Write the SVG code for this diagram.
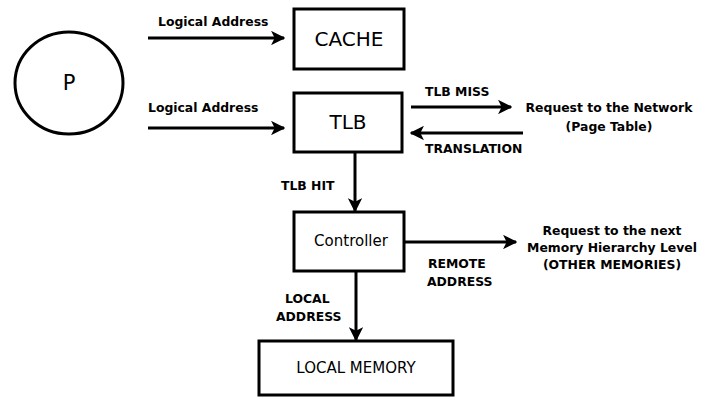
<svg xmlns="http://www.w3.org/2000/svg" width="713" height="401" viewBox="0 0 713 401">
<style>
.box{fill:#fff;stroke:#000;stroke-width:3}
.big{font-family:"DejaVu Sans",sans-serif;font-size:20px;text-anchor:middle;fill:#000}
.mid{font-family:"DejaVu Sans",sans-serif;font-size:15px;text-anchor:middle;fill:#000}
.lbl{font-family:"DejaVu Sans",sans-serif;font-size:12.4px;font-weight:bold;fill:#000}
.c{text-anchor:middle}
.con{stroke:#000;stroke-width:3;fill:none;marker-end:url(#ah)}
</style>
<defs>
<marker id="ah" viewBox="0 0 10 10" refX="9" refY="5" markerWidth="4.8" markerHeight="4.8" markerUnits="strokeWidth" orient="auto">
<path d="M0,0 L10,5 L0,10 L2.5,5 Z" fill="#000"/>
</marker>
</defs>
<rect width="713" height="401" fill="#fff"/>
<g id="P"><ellipse cx="69" cy="83" rx="54" ry="51" fill="#fff" stroke="#000" stroke-width="3"/><text class="big" x="69" y="90" style="font-size:21px">P</text></g>
<g id="cache"><rect class="box" x="294" y="9" width="110" height="60"/><text class="big" x="349" y="46">CACHE</text></g>
<g id="tlb"><rect class="box" x="294" y="93" width="108" height="59"/><text class="big" x="348" y="129">TLB</text></g>
<g id="controller"><rect class="box" x="294" y="212" width="110" height="59"/><text class="mid" x="351" y="246">Controller</text></g>
<g id="localmem"><rect class="box" x="259" y="341" width="194" height="54"/><text class="mid" x="356" y="373">LOCAL MEMORY</text></g>
<g id="network"><text class="lbl c" x="609" y="112">Request to the Network</text><text class="lbl c" x="609" y="131">(Page Table)</text></g>
<g id="nextlevel"><text class="lbl c" x="612" y="235">Request to the next</text><text class="lbl c" x="612" y="252">Memory Hierarchy Level</text><text class="lbl c" x="612" y="269">(OTHER MEMORIES)</text></g>
<g id="connectors">
<line class="con" x1="148" y1="38" x2="284" y2="38"/>
<text class="lbl" x="158" y="26">Logical Address</text>
<line class="con" x1="148" y1="128" x2="284" y2="128"/>
<text class="lbl" x="148" y="112">Logical Address</text>
<line class="con" x1="411" y1="107" x2="511" y2="107"/>
<text class="lbl" x="425" y="96">TLB MISS</text>
<line class="con" x1="523" y1="133" x2="411" y2="133"/>
<text class="lbl" x="425" y="153">TRANSLATION</text>
<line class="con" x1="355" y1="152" x2="355" y2="211"/>
<text class="lbl" x="281" y="190">TLB HIT</text>
<line class="con" x1="404" y1="242" x2="516" y2="242"/>
<text class="lbl" x="428" y="268">REMOTE</text>
<text class="lbl" x="427" y="286">ADDRESS</text>
<line class="con" x1="356" y1="271" x2="356" y2="340"/>
<text class="lbl" x="285" y="303">LOCAL</text>
<text class="lbl" x="276" y="321">ADDRESS</text>
</g>
</svg>
